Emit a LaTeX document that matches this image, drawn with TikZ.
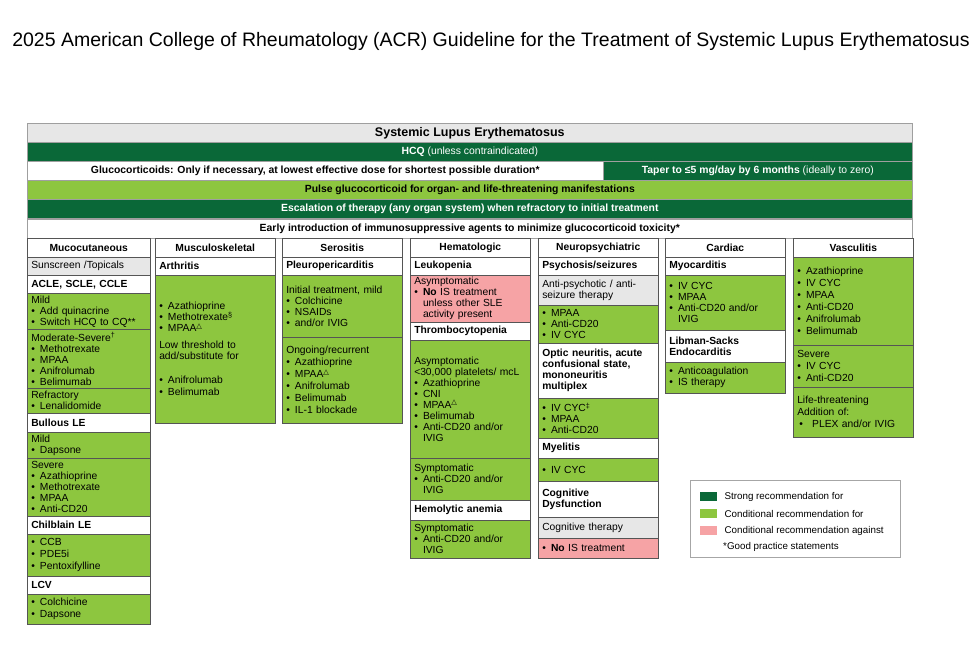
\documentclass[tikz,border=0pt]{standalone}
\usepackage{fontspec}
\setmainfont{Liberation Sans}
\newfontfamily\symfont{DejaVu Sans}
\usetikzlibrary{positioning}

\definecolor{strongg}{RGB}{10,104,56}
\definecolor{condg}{RGB}{141,198,63}
\definecolor{againstp}{RGB}{246,163,165}
\definecolor{neutralg}{RGB}{231,231,231}
\definecolor{edgeg}{RGB}{85,85,85}

\newcommand\bodyfont{\fontsize{10.3}{11}\selectfont}
\newcommand\blt{\makebox[0.85em][l]{\textbullet}}
\newcommand\hng{\hspace*{0.85em}}
\newcommand\tri{\textsuperscript{\symfont △}}

\begin{document}
\begin{tikzpicture}[
  x=1pt, y=-1pt,
  font=\bodyfont,
  cell/.style={draw=edgeg, line width=0.5pt, anchor=north west,
               inner xsep=4pt, inner ysep=1pt, text width=112pt, align=left},
  colA/.style={text width=115pt},
  hdr/.style={cell, fill=white, font=\bodyfont\bfseries, align=center},
  sub/.style={cell, fill=white, font=\bodyfont\bfseries},
  cond/.style={cell, fill=condg},
  against/.style={cell, fill=againstp},
  neutral/.style={cell, fill=neutralg},
  band/.style={draw=gray!75, line width=0.6pt, anchor=north west,
               minimum height=19pt, inner sep=0pt,
               font=\fontsize{10.4}{12}\selectfont\bfseries},
  swatch/.style={anchor=north west, minimum width=17pt, minimum height=9pt, inner sep=0pt},
  legtext/.style={font=\fontsize{9.8}{11}\selectfont, inner sep=1pt, anchor=west}
]
  \def\xA{27}  \def\xB{155} \def\xC{282} \def\xD{410}
  \def\xE{538} \def\xF{665} \def\xG{793}

  \useasboundingbox (0,0) rectangle (974,646);
  \fill[white] (0,0) rectangle (974,646);

  %--- title ---
  \node[font=\fontsize{19.5}{22}\selectfont] (title) at (491,41)
    {2025 American College of Rheumatology (ACR) Guideline for the Treatment of Systemic Lupus Erythematosus};

  %--- bands across all organ systems ---
  \node[band, fill=neutralg, minimum width=885, font=\fontsize{12.5}{14}\selectfont\bfseries]
    (sle) at (\xA,123) {Systemic Lupus Erythematosus};
  \node[band, fill=strongg, text=white, minimum width=885, font=\fontsize{10.4}{12}\selectfont]
    (hcq) at (\xA,142) {\textbf{HCQ} (unless contraindicated)};
  \node[band, fill=white, minimum width=576]
    (gc) at (\xA,161) {Glucocorticoids: Only if necessary, at lowest effective dose for shortest possible duration*};
  \node[band, fill=strongg, text=white, minimum width=309, font=\fontsize{10.4}{12}\selectfont]
    (taper) at (603,161) {\textbf{Taper to ≤5 mg/day by 6 months} (ideally to zero)};
  \node[band, fill=condg, minimum width=885]
    (pulse) at (\xA,180) {Pulse glucocorticoid for organ- and life-threatening manifestations};
  \node[band, fill=strongg, text=white, minimum width=885]
    (escal) at (\xA,199) {Escalation of therapy (any organ system) when refractory to initial treatment};
  \node[band, fill=white, minimum width=885]
    (early) at (\xA,219) {Early introduction of immunosuppressive agents to minimize glucocorticoid toxicity*};

  %--- Mucocutaneous ---
  \node[hdr, colA, minimum height=19] (mc) at (\xA,238) {Mucocutaneous};
  \node[neutral, colA, minimum height=18] (mc-sun) at (\xA,257) {Sunscreen /Topicals};
  \node[sub, colA, minimum height=18] (mc-acle) at (\xA,275) {ACLE, SCLE, CCLE};
  \node[cond, colA, minimum height=36] (mc-mild) at (\xA,293)
    {Mild\\\blt Add quinacrine\\\blt Switch HCQ to CQ**};
  \node[cond, colA, minimum height=59] (mc-mod) at (\xA,329)
    {Moderate-Severe\textsuperscript{†}\\\blt Methotrexate\\\blt MPAA\\\blt Anifrolumab\\\blt Belimumab};
  \node[cond, colA, minimum height=25] (mc-refr) at (\xA,388)
    {Refractory\\\blt Lenalidomide};
  \node[sub, colA, minimum height=19] (mc-bul) at (\xA,413) {Bullous LE};
  \node[cond, colA, minimum height=26] (mc-bmild) at (\xA,432)
    {Mild\\\blt Dapsone};
  \node[cond, colA, minimum height=58] (mc-bsev) at (\xA,458)
    {Severe\\\blt Azathioprine\\\blt Methotrexate\\\blt MPAA\\\blt Anti-CD20};
  \node[sub, colA, minimum height=18] (mc-chil) at (\xA,516) {Chilblain LE};
  \node[cond, colA, minimum height=42] (mc-ctx) at (\xA,534)
    {\blt CCB\\[1pt]\blt PDE5i\\[1pt]\blt Pentoxifylline};
  \node[sub, colA, minimum height=18] (mc-lcv) at (\xA,576) {LCV};
  \node[cond, colA, minimum height=30] (mc-ltx) at (\xA,594)
    {\blt Colchicine\\[1pt]\blt Dapsone};

  %--- Musculoskeletal ---
  \node[hdr, minimum height=19] (ms) at (\xB,238) {Musculoskeletal};
  \node[sub, minimum height=18] (ms-arth) at (\xB,257) {Arthritis};
  \node[cond, minimum height=148] (ms-tx) at (\xB,275)
    {\blt Azathioprine\\\blt Methotrexate\textsuperscript{§}\\\blt MPAA\tri\\[6pt]
     Low threshold to\\add/substitute for\\[13pt]
     \blt Anifrolumab\\[1pt]\blt Belimumab};

  %--- Serositis ---
  \node[hdr, minimum height=19] (se) at (\xC,238) {Serositis};
  \node[sub, minimum height=18] (se-pp) at (\xC,257) {Pleuropericarditis};
  \node[cond, minimum height=62] (se-init) at (\xC,275)
    {Initial treatment, mild\\\blt Colchicine\\\blt NSAIDs\\\blt and/or IVIG};
  \node[cond, minimum height=86] (se-rec) at (\xC,337)
    {Ongoing/recurrent\\[1pt]\blt Azathioprine\\[1pt]\blt MPAA\tri\\[1pt]\blt Anifrolumab\\[1pt]\blt Belimumab\\[1pt]\blt IL-1 blockade};

  %--- Hematologic ---
  \node[hdr, minimum height=19] (he) at (\xD,238) {Hematologic};
  \node[sub, minimum height=18] (he-leu) at (\xD,257) {Leukopenia};
  \node[against, minimum height=47] (he-leutx) at (\xD,275)
    {Asymptomatic\\\blt \textbf{No} IS treatment\\\hng unless other SLE\\\hng activity present};
  \node[sub, minimum height=18] (he-thr) at (\xD,322) {Thrombocytopenia};
  \node[cond, minimum height=118] (he-asym) at (\xD,340)
    {Asymptomatic\\<30,000 platelets/ mcL\\\blt Azathioprine\\\blt CNI\\\blt MPAA\tri\\\blt Belimumab\\\blt Anti-CD20 and/or\\\hng IVIG};
  \node[cond, minimum height=42] (he-sym) at (\xD,458)
    {Symptomatic\\\blt Anti-CD20 and/or\\\hng IVIG};
  \node[sub, minimum height=20] (he-hem) at (\xD,500) {Hemolytic anemia};
  \node[cond, minimum height=38] (he-hemtx) at (\xD,520)
    {Symptomatic\\\blt Anti-CD20 and/or\\\hng IVIG};

  %--- Neuropsychiatric ---
  \node[hdr, minimum height=19] (np) at (\xE,238) {Neuropsychiatric};
  \node[sub, minimum height=18] (np-psy) at (\xE,257) {Psychosis/seizures};
  \node[neutral, minimum height=30] (np-anti) at (\xE,275)
    {Anti-psychotic / anti-\\seizure therapy};
  \node[cond, minimum height=38] (np-psytx) at (\xE,305)
    {\blt MPAA\\\blt Anti-CD20\\\blt IV CYC};
  \node[sub, minimum height=55] (np-opt) at (\xE,343)
    {Optic neuritis, acute\\confusional state,\\mononeuritis\\multiplex};
  \node[cond, minimum height=40] (np-opttx) at (\xE,398)
    {\blt IV CYC\textsuperscript{‡}\\\blt MPAA\\\blt Anti-CD20};
  \node[sub, minimum height=20] (np-mye) at (\xE,438) {Myelitis};
  \node[cond, minimum height=23] (np-myetx) at (\xE,458) {\blt IV CYC};
  \node[sub, minimum height=36] (np-cog) at (\xE,481) {Cognitive\\Dysfunction};
  \node[neutral, minimum height=21] (np-cogth) at (\xE,517) {Cognitive therapy};
  \node[against, minimum height=20] (np-cogno) at (\xE,538) {\blt \textbf{No} IS treatment};

  %--- Cardiac ---
  \node[hdr, minimum height=19] (ca) at (\xF,238) {Cardiac};
  \node[sub, minimum height=18] (ca-myo) at (\xF,257) {Myocarditis};
  \node[cond, minimum height=55] (ca-myotx) at (\xF,275)
    {\blt IV CYC\\\blt MPAA\\\blt Anti-CD20 and/or\\\hng IVIG};
  \node[sub, minimum height=32] (ca-ls) at (\xF,330) {Libman-Sacks\\Endocarditis};
  \node[cond, minimum height=31] (ca-lstx) at (\xF,362)
    {\blt Anticoagulation\\\blt IS therapy};

  %--- Vasculitis ---
  \node[hdr, minimum height=19] (va) at (\xG,238) {Vasculitis};
  \node[cond, minimum height=88] (va-tx) at (\xG,257)
    {\blt Azathioprine\\[1pt]\blt IV CYC\\[1pt]\blt MPAA\\[1pt]\blt Anti-CD20\\[1pt]\blt Anifrolumab\\[1pt]\blt Belimumab};
  \node[cond, minimum height=42] (va-sev) at (\xG,345)
    {Severe\\[1pt]\blt IV CYC\\[1pt]\blt Anti-CD20};
  \node[cond, minimum height=50] (va-life) at (\xG,387)
    {Life-threatening\\[1pt]Addition of:\\[1pt]\hspace*{0.2em}\textbullet\hspace{0.9em}PLEX and/or IVIG};

  %--- legend ---
  \node[draw=gray!70, line width=0.6pt, anchor=north west,
        minimum width=210, minimum height=77] (legend) at (690,480) {};
  \node[swatch, fill=strongg]  (sw-strong)  at (700,492) {};
  \node[swatch, fill=condg]    (sw-cond)    at (700,509) {};
  \node[swatch, fill=againstp] (sw-against) at (700,526) {};
  \node[legtext, right=6pt of sw-strong]  (lab-strong)  {Strong recommendation for};
  \node[legtext, right=6pt of sw-cond]    (lab-cond)    {Conditional recommendation for};
  \node[legtext, right=6pt of sw-against] (lab-against) {Conditional recommendation against};
  \node[legtext] (lab-gps) at (722,547) {*Good practice statements};

\end{tikzpicture}
\end{document}
